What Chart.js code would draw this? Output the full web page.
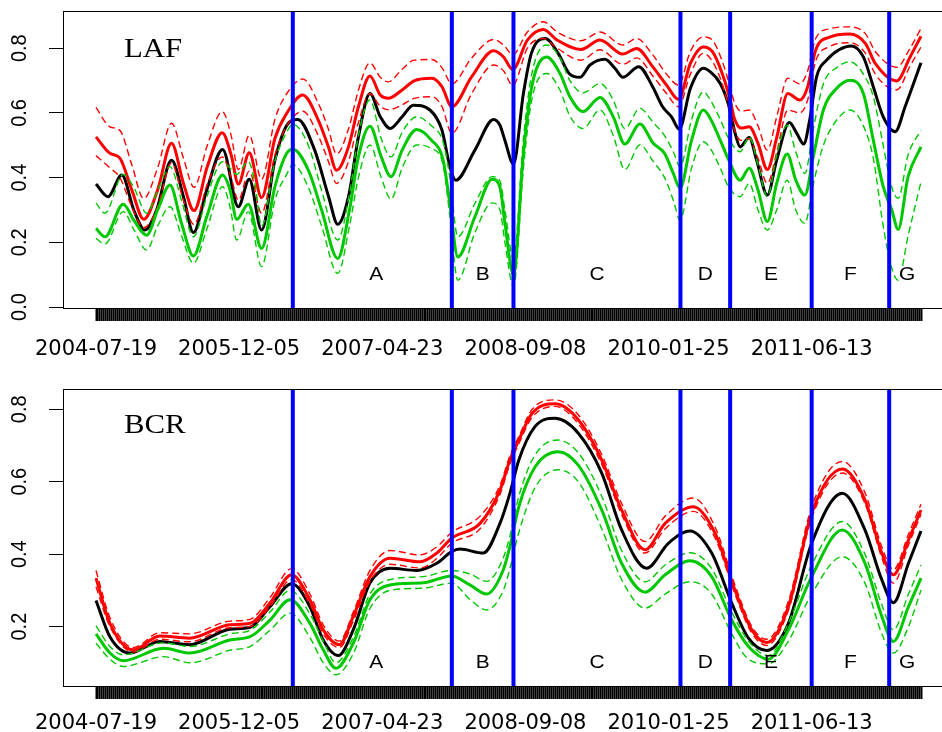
<!DOCTYPE html>
<html><head><meta charset="utf-8">
<script src="https://cdn.jsdelivr.net/npm/chart.js@4.4.1/dist/chart.umd.min.js"></script>
<style>html,body{margin:0;padding:0;background:#fff;overflow:hidden}#wrap{width:960px}canvas{display:block}</style>
</head><body><div id="wrap"><canvas id="lafCanvas" width="960" height="370"></canvas><canvas id="bcrCanvas" width="960" height="362"></canvas></div>
<script>
// ---------- categories / ticks ----------
const nWeeks = 416;                      // weekly observations, 2004-07-19 onwards
const tickLabels = ['2004-07-19','2005-12-05','2007-04-23','2008-09-08','2010-01-25','2011-06-13'];
const tickLabelStep = 72;                // a label every 72 weeks
const breakWeeks = [99,179,210,294,319,360,399];
const segmentLetters = ['A','B','C','D','E','F','G'];
const segmentLetterWeeks = [141,194.5,252,306.5,339.5,379.5,408];
const lafYTicks = [0,0.2,0.4,0.6,0.8];
const bcrYTicks = [0.2,0.4,0.6,0.8];

// ---------- LAF panel series: [week, value] ----------
const lafBlack = [[0,.38],[6,.341],[13,.408],[19,.3],[24.6,.238],[30.5,.3],[38,.454],[44,.341],[49,.23],[55.7,.362],[63.7,.487],[71.6,.31],[77.1,.395],[83.3,.238],[90,.454],[96,.562],[101.5,.58],[110,.485],[117,.341],[121.6,.256],[127,.341],[132,.526],[137.8,.66],[143,.588],[148,.552],[154,.588],[159.6,.624],[168,.609],[174,.547],[178,.434],[181,.392],[190.6,.485],[200,.58],[203.2,.562],[205.7,.515],[210,.442],[215,.66],[219,.784],[226,.83],[232.5,.784],[238,.722],[243.5,.71],[248.5,.748],[256,.766],[261,.738],[265,.71],[273,.743],[280,.681],[285,.619],[289.5,.588],[293.4,.55],[299,.676],[305.5,.738],[309,.727],[314,.691],[318,.629],[321.5,.537],[324,.495],[328.6,.524],[332.3,.454],[337.7,.346],[342.4,.454],[348.8,.57],[352.5,.537],[356,.504],[359,.578],[362.5,.712],[367.5,.763],[374,.796],[380,.807],[386,.773],[391,.681],[396,.588],[402,.542],[407,.619],[415,.755]];
const lafRed = [[0,.526],[7,.475],[12,.46],[18,.362],[24,.271],[31,.362],[38,.506],[44,.382],[49.3,.298],[56,.434],[63.5,.539],[68,.47],[71.6,.38],[77.1,.477],[83.3,.338],[90,.521],[96,.599],[104,.655],[111.8,.578],[116.9,.495],[121,.423],[127,.495],[132,.619],[137.8,.714],[143,.655],[147,.645],[154,.671],[160,.699],[169,.707],[174,.681],[179,.619],[189,.712],[200,.792],[205,.773],[209.6,.734],[217,.825],[225,.858],[232,.825],[244,.796],[253.5,.825],[265,.782],[272,.799],[280,.743],[287,.686],[293,.642],[299,.753],[305.5,.804],[310,.79],[315,.722],[319,.64],[321,.585],[324.5,.553],[328.6,.557],[333,.506],[337.7,.425],[342.5,.526],[348,.66],[354,.64],[358,.681],[362,.794],[369,.834],[379,.844],[387,.815],[392,.753],[402.8,.699],[409.5,.773],[415,.837]];
const lafRedHi = [[0,.617],[7,.557],[12,.546],[18,.44],[24,.335],[31,.43],[38,.568],[44,.46],[49.3,.37],[56,.5],[63.5,.604],[68,.53],[71.6,.425],[77.1,.531],[83.3,.395],[90,.58],[96,.66],[104,.705],[111.8,.63],[116.9,.55],[121,.473],[127,.55],[132,.67],[137.8,.755],[143,.71],[147,.696],[154,.735],[160,.763],[169,.765],[174,.74],[179,.69],[189,.77],[200,.827],[205,.81],[209.6,.78],[217,.85],[225,.882],[232,.85],[244,.823],[253.5,.85],[265,.81],[272,.83],[280,.78],[287,.72],[293,.686],[299,.79],[305.5,.835],[310,.825],[315,.76],[319,.68],[321,.635],[324.5,.605],[328.6,.609],[333,.56],[337.7,.485],[342.5,.59],[348,.707],[354,.69],[358,.73],[362,.83],[369,.86],[379,.866],[387,.845],[392,.79],[402.8,.741],[409.5,.8],[415,.861]];
const lafRedLo = [[0,.468],[7,.43],[12,.4],[18,.31],[24,.245],[31,.31],[38,.445],[44,.33],[49.3,.255],[56,.38],[63.5,.464],[68,.4],[71.6,.33],[77.1,.42],[83.3,.29],[90,.47],[96,.56],[104,.605],[111.8,.53],[116.9,.45],[121,.382],[127,.45],[132,.57],[137.8,.66],[143,.62],[147,.61],[154,.625],[160,.645],[169,.65],[174,.62],[179,.537],[189,.66],[200,.748],[205,.73],[209.6,.685],[217,.8],[225,.83],[232,.8],[244,.763],[253.5,.795],[265,.75],[272,.77],[280,.715],[287,.66],[293,.619],[299,.72],[305.5,.784],[310,.76],[315,.69],[319,.6],[321,.55],[324.5,.515],[328.6,.521],[333,.46],[337.7,.382],[342.5,.48],[348,.609],[354,.6],[358,.64],[362,.76],[369,.805],[379,.817],[387,.785],[392,.72],[402.8,.671],[409.5,.745],[415,.804]];
const lafGreen = [[0,.243],[4.5,.217],[13.7,.318],[19,.269],[25.5,.222],[31,.3],[37.2,.377],[43,.259],[49,.158],[55.7,.279],[63.7,.408],[67.4,.362],[70.8,.271],[76.6,.318],[83.3,.181],[90,.372],[95.9,.475],[99,.488],[106.8,.423],[113.5,.3],[121.6,.15],[127.5,.3],[132,.464],[137.8,.559],[143.5,.464],[148.4,.403],[154,.485],[161.3,.549],[168.7,.516],[174.6,.454],[178,.32],[182,.155],[190.6,.279],[199.3,.395],[203.2,.37],[205.7,.259],[210,.1],[215,.475],[219.2,.681],[226.7,.773],[233.4,.722],[238.4,.65],[245,.604],[253.5,.648],[260.2,.588],[266,.504],[273.6,.566],[280.3,.506],[286,.475],[290.4,.413],[293.8,.367],[299.6,.516],[305.5,.609],[309,.583],[314,.516],[318.3,.454],[324,.392],[328.6,.429],[333,.362],[337.7,.264],[342.4,.382],[347.7,.473],[352,.392],[356.6,.346],[360.8,.464],[365.9,.609],[372.6,.676],[379.3,.701],[386,.66],[391,.516],[396,.372],[400.3,.3],[403.5,.24],[408.5,.403],[415,.495]];
const lafGreenHi = [[0,.322],[4.5,.29],[13.7,.41],[19,.37],[25.5,.29],[31,.36],[37.2,.434],[43,.33],[49,.217],[55.7,.34],[63.7,.449],[67.4,.43],[70.8,.41],[76.6,.45],[80,.38],[83.3,.25],[90,.45],[95.9,.54],[99,.565],[106.8,.5],[113.5,.36],[121.6,.207],[127.5,.35],[132,.53],[137.8,.64],[143.5,.52],[148.4,.464],[154,.54],[161.3,.588],[168.7,.56],[174.6,.51],[178,.4],[182,.217],[190.6,.32],[199.3,.403],[203.2,.39],[205.7,.3],[210,.15],[215,.52],[219.2,.72],[226.7,.81],[233.4,.77],[238.4,.7],[245,.662],[253.5,.691],[260.2,.64],[266,.552],[273.6,.614],[280.3,.57],[286,.53],[290.4,.48],[293.8,.434],[299.6,.58],[305.5,.665],[309,.64],[314,.58],[318.3,.52],[324,.48],[328.6,.526],[333,.44],[337.7,.341],[342.4,.47],[347.7,.562],[352,.48],[356.6,.413],[360.8,.55],[365.9,.69],[372.6,.74],[379.3,.758],[386,.72],[391,.65],[396,.5],[400.3,.37],[403.5,.336],[408.5,.47],[415,.547]];
const lafGreenLo = [[0,.212],[4.5,.195],[13.7,.295],[19,.24],[25.5,.176],[31,.25],[37.2,.31],[43,.22],[49,.135],[55.7,.24],[63.7,.372],[67.4,.31],[70.8,.207],[76.6,.295],[83.3,.125],[90,.33],[95.9,.41],[99,.44],[106.8,.37],[113.5,.25],[121.6,.104],[127.5,.25],[132,.4],[137.8,.501],[143.5,.4],[148.4,.333],[154,.43],[161.3,.501],[168.7,.49],[174.6,.44],[178,.28],[182,.083],[190.6,.23],[199.3,.322],[203.2,.3],[205.7,.2],[210,.063],[215,.43],[219.2,.64],[226.7,.722],[233.4,.67],[238.4,.59],[245,.552],[253.5,.609],[260.2,.53],[266,.425],[273.6,.501],[280.3,.45],[286,.4],[290.4,.33],[293.8,.269],[299.6,.43],[305.5,.511],[309,.49],[314,.43],[318.3,.37],[324,.341],[328.6,.382],[333,.3],[337.7,.238],[342.4,.3],[347.7,.392],[352,.3],[356.6,.259],[360.8,.38],[365.9,.5],[372.6,.578],[379.3,.609],[386,.56],[391,.46],[396,.25],[400.3,.12],[403.5,.083],[408.5,.22],[415,.387]];

// ---------- BCR panel series: [week, value] ----------
const bcrBlack = [[0,.272],[7,.172],[17,.127],[32,.159],[47,.15],[67.4,.193],[77.5,.198],[87.5,.255],[98.4,.318],[107.6,.255],[114.3,.163],[121.9,.12],[129.4,.191],[137.8,.32],[147.9,.361],[161.3,.355],[171.4,.375],[178.9,.407],[183.1,.414],[194.8,.403],[203.2,.485],[208.2,.568],[212.7,.66],[220.8,.752],[230.9,.775],[242.6,.734],[254.4,.624],[264.4,.467],[277,.361],[287.9,.43],[298.8,.464],[309.7,.403],[319.8,.265],[328.2,.168],[337.4,.134],[348.3,.209],[360,.43],[375.4,.568],[386.8,.467],[395.3,.329],[401.1,.266],[408.7,.375],[415,.464]];
const bcrRed = [[0,.334],[7,.209],[18.8,.136],[32,.174],[47,.168],[67.4,.205],[77.5,.209],[87.5,.265],[98.4,.343],[107.6,.274],[114.3,.191],[122.4,.15],[129.4,.228],[137.8,.338],[147.9,.389],[163,.379],[171.4,.403],[178.9,.444],[193.2,.485],[203.2,.577],[208.2,.66],[212.7,.715],[219.4,.789],[230.9,.815],[242.6,.771],[254.4,.66],[264.4,.522],[276.2,.412],[286.3,.485],[300.5,.531],[311.4,.458],[321.4,.301],[329.9,.191],[337.4,.156],[348.3,.255],[360,.513],[375.4,.635],[386.8,.55],[395.3,.403],[401.1,.343],[408.7,.439],[415,.522]];
const bcrRedHi = [[0,.355],[7,.225],[18.8,.142],[32,.183],[47,.18],[67.4,.215],[77.5,.22],[87.5,.28],[98.4,.36],[107.6,.29],[114.3,.205],[122.4,.16],[129.4,.24],[137.8,.355],[147.9,.41],[163,.398],[171.4,.42],[178.9,.46],[193.2,.505],[203.2,.59],[208.2,.672],[212.7,.725],[219.4,.8],[230.9,.826],[242.6,.785],[254.4,.675],[264.4,.54],[276.2,.435],[286.3,.505],[300.5,.555],[311.4,.475],[321.4,.315],[329.9,.2],[337.4,.165],[348.3,.27],[360,.53],[375.4,.656],[386.8,.57],[395.3,.42],[401.1,.357],[408.7,.455],[415,.538]];
const bcrRedLo = [[0,.31],[7,.2],[18.8,.13],[32,.165],[47,.158],[67.4,.197],[77.5,.2],[87.5,.255],[98.4,.33],[107.6,.262],[114.3,.18],[122.4,.142],[129.4,.215],[137.8,.325],[147.9,.372],[163,.362],[171.4,.388],[178.9,.43],[193.2,.47],[203.2,.565],[208.2,.648],[212.7,.705],[219.4,.778],[230.9,.808],[242.6,.76],[254.4,.648],[264.4,.51],[276.2,.403],[286.3,.47],[300.5,.518],[311.4,.445],[321.4,.29],[329.9,.182],[337.4,.148],[348.3,.245],[360,.5],[375.4,.624],[386.8,.54],[395.3,.39],[401.1,.32],[408.7,.425],[415,.51]];
const bcrGreen = [[0,.18],[7,.127],[13.7,.106],[33.9,.14],[47.3,.127],[67.4,.163],[77.5,.172],[87.5,.218],[97.6,.274],[107.6,.209],[114.3,.136],[120.7,.085],[129.4,.154],[137.8,.274],[147.9,.315],[164.6,.321],[178.9,.34],[188.1,.315],[196.5,.29],[204.9,.357],[208.2,.421],[212.7,.531],[221,.642],[232.3,.683],[242.6,.646],[254.4,.522],[264.4,.375],[276.2,.295],[286.3,.343],[298.8,.382],[309.7,.338],[319.8,.218],[328.2,.145],[338.2,.11],[348.3,.191],[360,.338],[375.4,.467],[386.8,.375],[395.3,.228],[401.1,.159],[408.7,.255],[415,.334]];
const bcrGreenHi = [[0,.202],[7,.145],[13.7,.122],[33.9,.155],[47.3,.145],[67.4,.18],[77.5,.19],[87.5,.24],[97.6,.3],[107.6,.235],[114.3,.16],[120.7,.1],[129.4,.17],[137.8,.29],[147.9,.33],[164.6,.338],[178.9,.355],[188.1,.345],[196.5,.325],[204.9,.39],[208.2,.45],[212.7,.56],[221,.675],[232.3,.715],[242.6,.68],[254.4,.56],[264.4,.41],[276.2,.324],[286.3,.37],[298.8,.404],[309.7,.36],[319.8,.24],[328.2,.16],[338.2,.12],[348.3,.21],[360,.37],[375.4,.49],[386.8,.4],[395.3,.26],[401.1,.191],[408.7,.29],[415,.37]];
const bcrGreenLo = [[0,.154],[7,.11],[13.7,.09],[33.9,.117],[47.3,.1],[67.4,.135],[77.5,.145],[87.5,.19],[97.6,.237],[107.6,.17],[114.3,.1],[120.7,.067],[129.4,.125],[137.8,.25],[147.9,.3],[164.6,.306],[178.9,.32],[188.1,.275],[196.5,.246],[204.9,.3],[208.2,.36],[212.7,.46],[221,.585],[232.3,.633],[242.6,.6],[254.4,.47],[264.4,.33],[276.2,.251],[286.3,.29],[298.8,.324],[309.7,.29],[319.8,.18],[328.2,.11],[338.2,.097],[348.3,.16],[360,.29],[375.4,.393],[386.8,.32],[395.3,.18],[401.1,.127],[408.7,.2],[415,.301]];

// ---------- styling ----------
const RED = '#ff0000', GREEN = '#00c800', BLACK = '#000000', BLUE = '#0000ff';
const weekTicks = Array.from({length: nWeeks}, (_, i) => i);

function toPts(arr) { return arr.map(([x, y]) => ({x, y})); }
function lineDs(arr, color, width, dashed, order) {
  return { data: toPts(arr), borderColor: color, borderWidth: width, borderDash: dashed ? [7, 4] : [],
    pointRadius: 0, fill: false, cubicInterpolationMode: 'monotone', order };
}
function breakDs(w, yMin, yMax) {
  return { data: [{x: w, y: yMin}, {x: w, y: yMax}], borderColor: BLUE, borderWidth: 4,
    pointRadius: 0, tension: 0, clip: 0, order: 0 };
}

function drawText(ctx, text, x, y, font, align, baseline, sx, rotate) {
  ctx.save();
  ctx.translate(x, y);
  if (rotate) { ctx.rotate(-Math.PI / 2); ctx.scale(1, sx); } else { ctx.scale(sx, 1); }
  ctx.font = font; ctx.fillStyle = '#000'; ctx.textAlign = align; ctx.textBaseline = baseline;
  ctx.fillText(text, 0, 0);
  ctx.restore();
}

const panelDecor = {
  id: 'panelDecor',
  afterDatasetsDraw(chart, args, opts) {
    const {ctx, chartArea: a} = chart;
    const xs = chart.scales.x, ys = chart.scales.y;
    ctx.save();
    ctx.strokeStyle = '#000'; ctx.lineWidth = 1;
    ctx.strokeRect(a.left + 0.5, a.top + 0.5, a.right - a.left, a.bottom - a.top);
    ctx.restore();
    drawText(ctx, opts.title, a.left + 61, opts.titleBaseline, '28px "Liberation Serif"', 'left', 'alphabetic', 1.1, false);
    segmentLetters.forEach((L, i) => {
      drawText(ctx, L, xs.getPixelForValue(segmentLetterWeeks[i]), ys.getPixelForValue(0.1),
        '19px "Liberation Sans"', 'center', 'middle', 1.1, false);
    });
    opts.yTicks.forEach(v => {
      drawText(ctx, v.toFixed(1), 19.5, ys.getPixelForValue(v), '20px "Liberation Sans"', 'center', 'middle', 1.12, true);
    });
  }
};

function makePanel(canvasId, cfg) {
  const datasets = [
    lineDs(cfg.black, BLACK, 3, false, 3),
    lineDs(cfg.redHi, RED, 1.4, true, 2),
    lineDs(cfg.red, RED, 3, false, 2),
    lineDs(cfg.redLo, RED, 1.4, true, 2),
    lineDs(cfg.greenHi, GREEN, 1.4, true, 1),
    lineDs(cfg.green, GREEN, 3, false, 1),
    lineDs(cfg.greenLo, GREEN, 1.4, true, 1),
    ...breakWeeks.map(w => breakDs(w, cfg.yMin, cfg.yMax))
  ];
  return new Chart(document.getElementById(canvasId), {
    type: 'line',
    data: { datasets },
    options: {
      responsive: false, animation: false, devicePixelRatio: 1, events: [],
      layout: { padding: { top: cfg.padTop, right: 6, left: 0, bottom: 0 } },
      plugins: { legend: { display: false }, tooltip: { enabled: false },
        panelDecor: { title: cfg.title, titleBaseline: cfg.titleBaseline, yTicks: cfg.yTicks } },
      scales: {
        x: {
          type: 'linear', bounds: 'data', min: -16.6, max: 431.6,
          afterBuildTicks: ax => { ax.ticks = weekTicks.map(v => ({value: v})); },
          afterFit: ax => { ax.height = cfg.xAxisHeight; },
          grid: { drawOnChartArea: false, drawTicks: true, tickLength: 13, tickColor: '#000', tickWidth: 2 },
          border: { display: false },
          ticks: { autoSkip: false, maxRotation: 0, minRotation: 0, padding: cfg.labelPad, color: '#000',
            font: { family: 'DejaVu Sans', size: 21 },
            callback: (v, i) => (i % tickLabelStep === 0 && tickLabels[i / tickLabelStep]) ? tickLabels[i / tickLabelStep] : '' }
        },
        y: {
          type: 'linear', bounds: 'data', min: cfg.yMin, max: cfg.yMax,
          afterBuildTicks: ax => { ax.ticks = cfg.yTicks.map(v => ({value: v})); },
          afterFit: ax => { ax.width = 63; },
          grid: { drawOnChartArea: false, drawTicks: true, tickLength: 14, tickColor: '#000', tickWidth: 1 },
          border: { display: false },
          ticks: { display: false }
        }
      }
    },
    plugins: [panelDecor]
  });
}

makePanel('lafCanvas', { title: 'LAF', titleBaseline: 57, padTop: 11, xAxisHeight: 62, labelPad: 16, yMin: -0.003, yMax: 0.915, yTicks: lafYTicks,
  black: lafBlack, red: lafRed, redHi: lafRedHi, redLo: lafRedLo, green: lafGreen, greenHi: lafGreenHi, greenLo: lafGreenLo });
makePanel('bcrCanvas', { title: 'BCR', titleBaseline: 62.7, padTop: 19, xAxisHeight: 46, labelPad: 12, yMin: 0.036, yMax: 0.856, yTicks: bcrYTicks,
  black: bcrBlack, red: bcrRed, redHi: bcrRedHi, redLo: bcrRedLo, green: bcrGreen, greenHi: bcrGreenHi, greenLo: bcrGreenLo });
</script>
</body></html>
